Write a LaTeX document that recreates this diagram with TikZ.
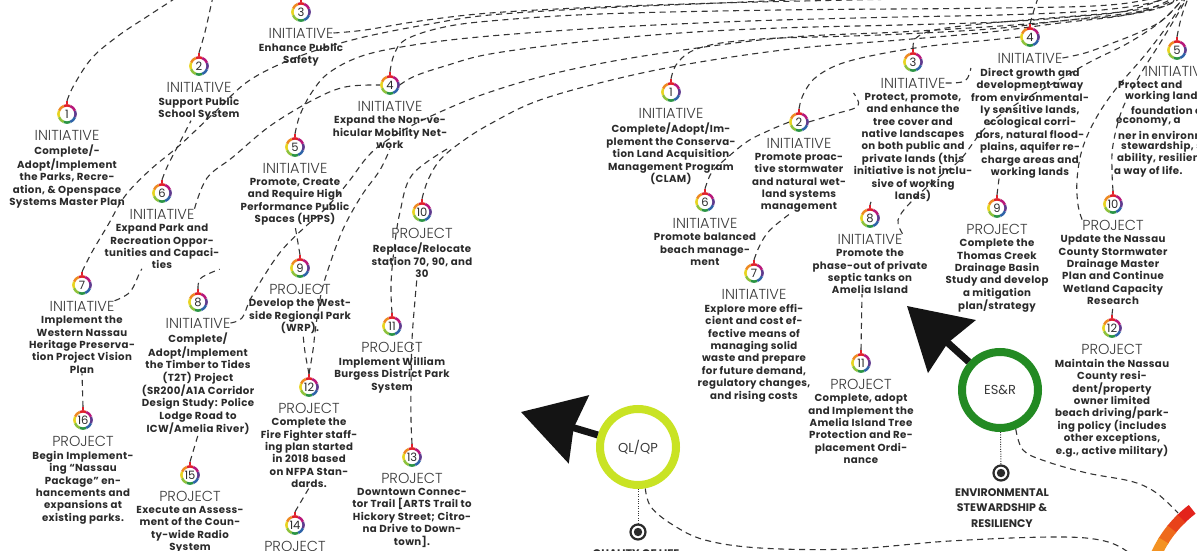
\documentclass[tikz,border=0pt]{standalone}
\usepackage{fontspec}
\setmainfont{Poppins}
\newfontfamily\hdrfont{Poppins Light}
\newfontfamily\bodyfont{Poppins}[LetterSpace=3.5]
\usetikzlibrary{arrows.meta}
\pgfdeclarelayer{back}
\pgfdeclarelayer{links}
\pgfsetlayers{back,links,main}

\definecolor{ink}{HTML}{2B2B2B}
\definecolor{hdr}{HTML}{3A3A3A}
\definecolor{dashc}{HTML}{353535}
\definecolor{limec}{HTML}{C9E324}
\definecolor{esgreen}{HTML}{238A23}
\definecolor{rR}{HTML}{E0202A}
\definecolor{rO}{HTML}{EE8A22}
\definecolor{rY}{HTML}{E8D41F}
\definecolor{rL}{HTML}{8EC23B}
\definecolor{rG}{HTML}{2A9444}
\definecolor{rB}{HTML}{2E64A8}
\definecolor{rP}{HTML}{5E3A8E}
\definecolor{rM}{HTML}{B8187A}

% multicoloured ring round a numbered badge, with its little stub on top
\newcommand\ringat[1]{%
  \foreach \ang/\col in {67.5/rR,112.5/rO,157.5/rY,202.5/rL,247.5/rG,292.5/rB,337.5/rP,22.5/rM}{%
    \draw[\col, line width=2.5pt] ([shift={(\ang:8.6pt)}]#1.center) arc[start angle=\ang, delta angle=45, radius=8.6pt];
  }%
  \draw[rR, line width=1.2pt] (#1.north) -- ++(0,3.5pt);
}

% badge + header + description block
\newcommand\mkentry[6]{%
  \node[badge] (#1) at (#2,#3) {#4};
  \ringat{#1}%
  \coordinate (#1t) at ([yshift=3.5pt]#1.north);
  \node[hd] (#1h) at (#2,#3+21) {#5};
  \node[body] (#1x) at (#2,#3+31) {#6};
}

\begin{document}
\begin{tikzpicture}[x=1pt,y=-1pt,
  conn/.style={draw=dashc, line width=1.1pt, dash pattern=on 6pt off 4.5pt},
  link/.style={conn, smooth, tension=0.6},
  badge/.style={circle, minimum size=19pt, inner sep=0pt, text=ink, font=\fontsize{11.5}{12}\selectfont},
  hd/.style={inner sep=0pt, text=hdr, font=\hdrfont\fontsize{14.5}{15}\selectfont},
  body/.style={inner sep=0pt, align=center, text=ink, anchor=north, font=\bodyfont\bfseries\fontsize{10.2}{12.4}\selectfont},
  hub/.style={circle, line width=8pt, minimum size=76pt, inner sep=0pt, text=hdr, font=\fontsize{13}{14}\selectfont},
  bigarrow/.style={line width=7pt, draw=black!92, -{Stealth[length=60pt,width=70pt,inset=5pt]}},
  target/.style={circle, draw=ink, line width=2.2pt, minimum size=15pt, inner sep=0pt},
  dotline/.style={draw=dashc, line width=1pt, dash pattern=on 1pt off 1.4pt},
  caption/.style={inner sep=0pt, align=center, text=ink, anchor=north, font=\bfseries\fontsize{11}{15.5}\selectfont}
]
\useasboundingbox (0,0) rectangle (1197,551);
\begin{pgfonlayer}{back}
  \fill[white] (0,0) rectangle (1197,551);
\end{pgfonlayer}

% ---------------- quality of life / quality of place cluster
\mkentry{a1}{67}{114}{1}{INITIATIVE}{Complete/-\\Adopt/Implement\\the Parks, Recre-\\ation, \& Openspace\\Systems Master Plan}
\mkentry{a2}{199}{66}{2}{INITIATIVE}{Support Public\\School System}
\mkentry{a3}{301}{12}{3}{INITIATIVE}{Enhance Public\\Safety}
\mkentry{a4}{390}{85}{4}{INITIATIVE}{Expand the Non-ve-\\hicular Mobility Net-\\work}
\mkentry{a5}{295}{147}{5}{INITIATIVE}{Promote, Create\\and Require High\\Performance Public\\Spaces (HPPS)}
\mkentry{a6}{162}{193}{6}{INITIATIVE}{Expand Park and\\Recreation Oppor-\\tunities and Capaci-\\ties}
\mkentry{a7}{82}{285}{7}{INITIATIVE}{Implement the\\Western Nassau\\Heritage Preserva-\\tion Project Vision\\Plan}
\mkentry{a8}{198}{302}{8}{INITIATIVE}{Complete/\\Adopt/Implement\\the Timber to Tides\\(T2T) Project\\(SR200/A1A Corridor\\Design Study: Police\\Lodge Road to\\ICW/Amelia River)}
\mkentry{a9}{300}{268}{9}{PROJECT}{Develop the West-\\side Regional Park\\(WRP).}
\mkentry{a10}{422}{212}{10}{PROJECT}{Replace/Relocate\\station 70, 90, and\\30}
\mkentry{a11}{392}{326}{11}{PROJECT}{Implement William\\Burgess District Park\\System}
\mkentry{a12}{309}{387}{12}{PROJECT}{Complete the\\Fire Fighter staff-\\ing plan started\\in 2018 based\\on NFPA Stan-\\dards.}
\mkentry{a13}{412}{457}{13}{PROJECT}{Downtown Connec-\\tor Trail [ARTS Trail to\\Hickory Street; Citro-\\na Drive to Down-\\town].}
\mkentry{a14}{295}{525}{14}{PROJECT}{}
\mkentry{a15}{190}{475}{15}{PROJECT}{Execute an Assess-\\ment of the Coun-\\ty-wide Radio\\System}
\mkentry{a16}{83}{420}{16}{PROJECT}{Begin Implement-\\ing “Nassau\\Package” en-\\hancements and\\expansions at\\existing parks.}

% ---------------- environmental stewardship cluster
\mkentry{r1}{671}{92}{1}{INITIATIVE}{Complete/Adopt/Im-\\plement the Conserva-\\tion Land Acquisition\\Management Program\\(CLAM)}
\mkentry{r2}{799}{122}{2}{INITIATIVE}{Promote proac-\\tive stormwater\\and natural wet-\\land systems\\management}
\mkentry{r3}{913}{62}{3}{INITIATIVE}{Protect, promote,\\and enhance the\\tree cover and\\native landscapes\\on both public and\\private lands (this\\initiative is not inclu-\\sive of working\\lands)}
\mkentry{r4}{1030}{37}{4}{INITIATIVE}{Direct growth and\\development away\\from environmental-\\ly sensitive lands,\\ecological corri-\\dors, natural flood-\\plains, aquifer re-\\charge areas and\\working lands}
\mkentry{r5}{1177}{50}{5}{INITIATIVE}{}
\node[body, anchor=west] (r5l1) at (1118,85) {Protect and};
\node[body, anchor=west] (r5l2) at (1125,97) {working lands as a};
\node[body, anchor=west] (r5l3) at (1131,110) {foundation of the};
\node[body, anchor=west] (r5l4) at (1116,122) {economy, a};
\node[body, anchor=west] (r5l5) at (1118,135) {ner in environmental};
\node[body, anchor=west] (r5l6) at (1121,147) {stewardship, sustain-};
\node[body, anchor=west] (r5l7) at (1117,159) {ability, resilience and};
\node[body, anchor=west] (r5l8) at (1114,172) {a way of life.};
\mkentry{r6}{705}{202}{6}{INITIATIVE}{Promote balanced\\beach manage-\\ment}
\mkentry{r7}{754}{273}{7}{INITIATIVE}{Explore more effi-\\cient and cost ef-\\fective means of\\managing solid\\waste and prepare\\for future demand,\\regulatory changes,\\and rising costs}
\mkentry{r8}{870}{218}{8}{INITIATIVE}{Promote the\\phase-out of private\\septic tanks on\\Amelia Island}
\mkentry{r9}{997}{208}{9}{PROJECT}{Complete the\\Thomas Creek\\Drainage Basin\\Study and develop\\a mitigation\\plan/strategy}
\mkentry{r10}{1113}{204}{10}{PROJECT}{Update the Nassau\\County Stormwater\\Drainage Master\\Plan and Continue\\Wetland Capacity\\Research}
\mkentry{r11}{861}{363}{11}{PROJECT}{Complete, adopt\\and Implement the\\Amelia Island Tree\\Protection and Re-\\placement Ordi-\\nance}
\mkentry{r12}{1112}{328}{12}{PROJECT}{Maintain the Nassau\\County resi-\\dent/property\\owner limited\\beach driving/park-\\ing policy (includes\\other exceptions,\\e.g., active military)}

% ---------------- the two goal rings
\node[hub, draw=limec] (ql) at (638,447) {QL/QP};
\node[hub, draw=esgreen] (esr) at (1000,390) {ES\&R};
\coordinate (qltip) at (521,412);
\coordinate (esrtip) at (907,306);
\draw[bigarrow] (ql) -- (qltip);
\draw[bigarrow] (esr) -- (esrtip);

\node[target] (qlb) at (638,532) {};
\fill[ink] (qlb.center) circle[radius=4.2pt];
\node[target] (esb) at (1001,473) {};
\fill[ink] (esb.center) circle[radius=4.2pt];
\node[caption] (qllab) at (636,549) {QUALITY OF LIFE};
\node[caption] (eslab) at (1002,488) {ENVIRONMENTAL\\STEWARDSHIP \&\\RESILIENCY};

% coloured wheel segment in the lower right corner
\coordinate (wc) at (1262,602);
\foreach \sa/\col in {127/E3231C,134/E8421A,141/EE6A1C,148/F39222,155/F6B828}{
  \definecolor{seg}{HTML}{\col}
  \draw[seg, line width=11pt] ([shift={(\sa:116pt)}]wc) arc[start angle=\sa, delta angle=7.6, radius=116pt];
}
\coordinate (wheelA) at (1145,572);
\coordinate (wheelB) at (1178,513);
\coordinate (H) at (1192,-12);

\begin{pgfonlayer}{links}
% goal rings to their targets and onward
\draw[dotline] (ql) -- (qlb);
\draw[dotline] (esr) -- (esb);
\draw[link] plot coordinates {(ql.-80) (651,507) (673,525) (705,540) (760,548) (850,549) (950,541) (1050,537) (1100,540) (1128,552) (wheelA)};
\draw[link] plot coordinates {(esr.-68) (1023,450) (1045,461) (1087,473) (1130,481) (1152,490) (1167,502) (wheelB)};

% left cluster
\draw[link] plot coordinates {(a1t) (74,85) (92,58) (118,36) (148,16) (185,-8)};
\draw[link] plot coordinates {(a2t) (205,32) (210,10) (214,-8)};
\draw[conn] (a3t) -- (301,-8);
\draw[link] plot coordinates {(a6t) (168,165) (180,142) ([xshift=-8pt]a2x.south)};
\draw[link] plot coordinates {(a7t) (92,252) (108,225) (125,196) (150,170) (180,145) (215,112) (250,80) (300,56) (360,38) (430,24) (490,15) (600,8) (720,3) (850,-3) (950,-10)};
\draw[link] plot coordinates {(a6h.north east) (207,178) (233,157) (270,126) (313,100) (345,87) (a4.west)};
\draw[link] plot coordinates {(a4.east) (415,76) (445,66) (490,54) (580,42) (680,33) (780,28) (900,25) (1000,22) (1070,17) (1130,10) (H)};
\draw[link] plot coordinates {(a4t) (394,55) (405,40) (440,28) (490,21) (600,14) (780,10) (1000,8) (1120,4) (H)};
\draw[link] plot coordinates {(a5t) (300,115) (312,92) (330,72) (365,55) (420,44) (490,36) (600,28) (700,23) (780,20) (900,17) (1000,15) (1090,11) (1150,3) (H)};
\draw[link] plot coordinates {(a3h.east) (365,30) (420,21) (490,13) (600,7) (720,3) (850,0) (1000,-3) (H)};
\draw[link] plot coordinates {(a8h.east) (242,318) (250,300) (264,276) (282,250) (305,227) (322,212) (337,196) (350,180) (372,152) (402,131) (440,112) (490,92) (560,72) (650,55) (780,38) (900,32) (1000,26) (1070,20) (1140,12) (H)};
\draw[link] plot coordinates {(a10t) (428,180) (440,160) (460,143) (490,124) (540,100) (620,78) (700,62) (800,48) (900,40) (990,32) (1060,23) (1120,16) (1165,6) (H)};
\draw[link] plot coordinates {(a11t) (391,285) (394,250) (400,212) (412,175) (a4x.south east)};
\draw[link] plot coordinates {(a13t) (411,420) (411,385) (412,340) (415,300) ([xshift=-5pt]a10x.south)};
\draw[link] plot coordinates {(a12t) (305,352) ([xshift=3pt]a9x.south)};
\draw[link] plot coordinates {(a12t) (313,350) (316,325) (322,290) (333,255) (345,225) (362,195) (380,170) (a4x.south)};
\draw[conn] (a9t) -- (a5x.south);
\draw[conn] (a14t) -- (a12x.south);
\draw[conn] (a15t) -- (a8x.south);
\draw[conn] (a16t) -- (a7x.south);
\draw[link] plot coordinates {(a8t) (201,278) (a6x.south east)};
\draw[link] plot coordinates {(a7h.north east) (130,292) (140,272) ([xshift=-20pt]a6x.south)};

% right cluster
\draw[link] plot coordinates {(r1t) (676,65) (690,52) (715,44) (750,40) (780,38) (880,35) (990,29) (1060,21) (1130,13) (1170,4) (H)};
\draw[link] plot coordinates {(r2t) (803,95) (815,78) (840,64) (880,54) (930,46) (990,40) (r4.west)};
\draw[link] plot coordinates {(r3t) (916,38) (935,30) (980,24) (1050,18) (1120,12) (1165,4) (H)};
\draw[link] plot coordinates {(r3h.east) (965,81) (r4x.north west)};
\draw[link] plot coordinates {(r4t) (1034,10) (1040,-8)};
\draw[link] plot coordinates {(r4h.east) (1085,53) (1110,44) (1140,32) (1165,18) (H)};
\draw[link] plot coordinates {(r5t) (1182,15) (H)};
\draw[link] plot coordinates {(r6t) (712,172) (728,157) (748,141) (770,130) (r2.west)};
\draw[link] plot coordinates {(r7t) (760,245) (770,230) ([xshift=-8pt]r2x.south)};
\draw[conn] (r8t) -- ([xshift=-42pt]r3x.south);
\draw[link] plot coordinates {(r8h.north east) (898,220) (910,203) (935,180) (960,160) (985,128) (1015,105) (1050,85) (1090,62) (1130,42) (1165,18) (H)};
\draw[conn] (r9t) -- ([xshift=-31pt]r4x.south);
\draw[link] plot coordinates {(r10h.north west) (1078,205) (1077,180) (1082,150) (1095,120) (1115,90) (1145,55) (1170,22) (H)};
\draw[link] plot coordinates {(r10t) (1112,170) (1113,145) (1122,110) (1140,75) (1162,40) (1180,10) (H)};
\draw[conn] (r11t) -- ([xshift=-8pt]r8x.south);
\draw[conn] (r12t) -- (r10x.south);
\draw[link] plot coordinates {(r2.east) (835,114) (858,106) (r3x.north west)};
\end{pgfonlayer}
\end{tikzpicture}
\end{document}
